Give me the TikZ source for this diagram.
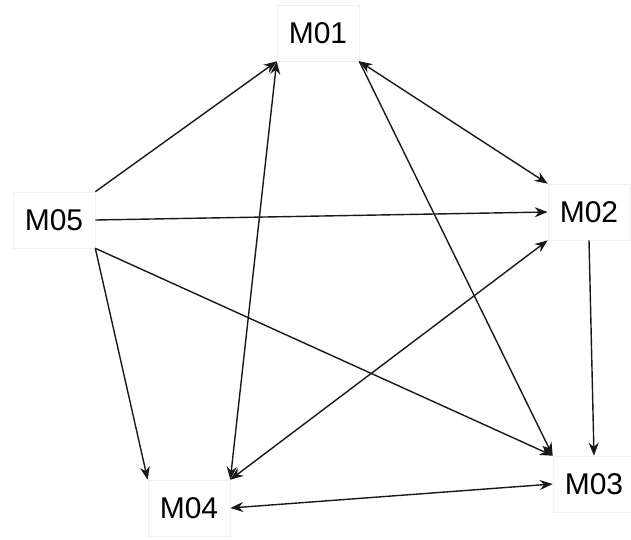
\documentclass[tikz,border=0pt]{standalone}
\usepackage{fontspec}
\setmainfont{Liberation Sans}
\usetikzlibrary{arrows.meta}
\begin{document}
\begin{tikzpicture}[x=1pt,y=-1pt,
  box/.style={draw=gray!12, fill=white, line width=0.6pt, minimum width=82pt, minimum height=56pt, inner sep=0pt, font=\fontsize{30}{36}\selectfont},
  tip/.tip={Stealth[length=13pt,width=10pt]},
  edge/.style={line width=1.4pt, draw=black!90, -tip},
  both/.style={line width=1.4pt, draw=black!90, tip-tip}]
\useasboundingbox (0,0) rectangle (631,539);
\node[box] (M01) at (318,33) {M01};
\node[box] (M02) at (589,212) {M02};
\node[box] (M03) at (594,484) {M03};
\node[box] (M04) at (189,508) {M04};
\node[box] (M05) at (54,220) {M05};
\draw[edge] (M05.north east) -- (M01.south west);
\draw[edge] (M05.east) -- (M02.west);
\draw[edge] (M05.south east) -- (M03.north west);
\draw[edge] (M05.south east) -- (M04.north west);
\draw[both] (M01.south west) -- (M04.north east);
\draw[both] (M01.south east) -- (M02.north west);
\draw[edge] (M01.south east) -- (M03.north west);
\draw[both] (M02.south west) -- (M04.north east);
\draw[edge] (M02.south) -- (M03.north);
\draw[both] (M04.east) -- (M03.west);
\end{tikzpicture}
\end{document}
